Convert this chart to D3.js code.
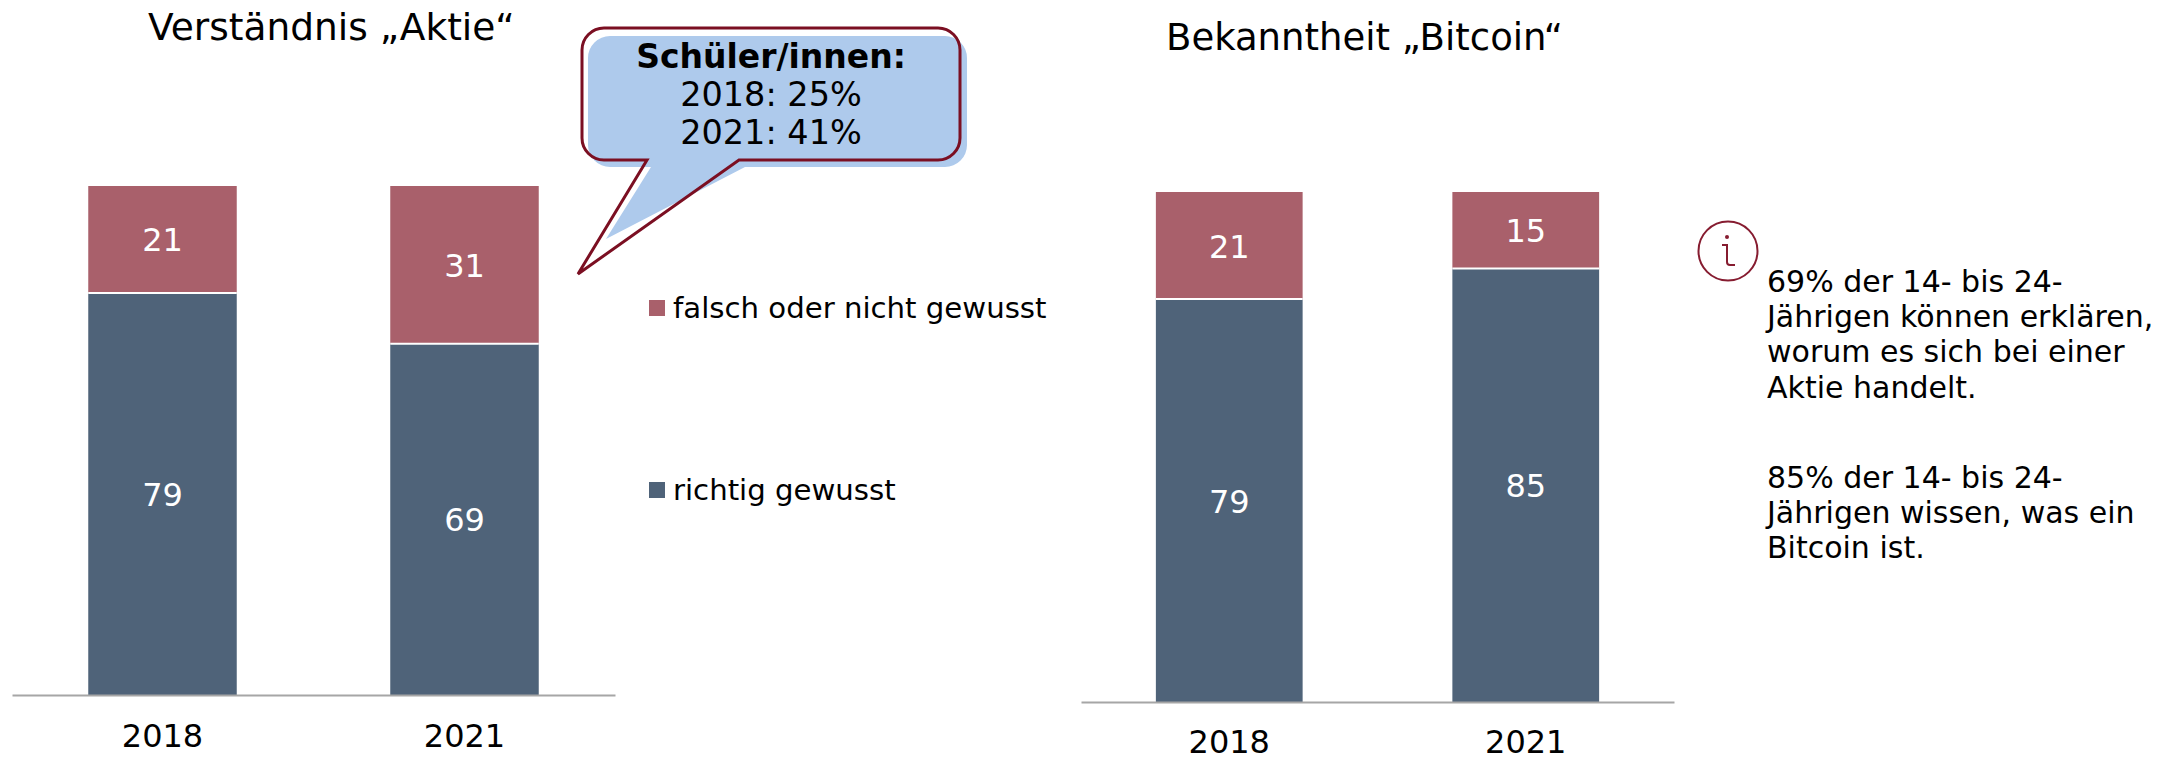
<!DOCTYPE html>
<html lang="de">
<head>
<meta charset="UTF-8" />
<title>Verständnis Aktie / Bekanntheit Bitcoin</title>
<script src="https://d3js.org/d3.v7.min.js"></script>
<style>
  html, body { margin: 0; padding: 0; background: white; }
  svg { display: block; }
  text { font-family: "DejaVu Sans", sans-serif; fill: black; }
</style>
</head>
<body>
<div id="chart"></div>
<script>
// --- data ---
const years = ["2018", "2021"];
const seriesNames = ["richtig gewusst", "falsch oder nicht gewusst"];
const aktieRichtig = [79, 69];
const aktieFalsch = [21, 31];
const bitcoinRichtig = [79, 85];
const bitcoinFalsch = [21, 15];
const calloutLines = ["Schüler/innen:", "2018: 25%", "2021: 41%"];
const infoLines1 = ["69% der 14- bis 24-", "Jährigen können erklären,", "worum es sich bei einer", "Aktie handelt."];
const infoLines2 = ["85% der 14- bis 24-", "Jährigen wissen, was ein", "Bitcoin ist."];

const colors = { "richtig gewusst": "#4f6379", "falsch oder nicht gewusst": "#a9606b" };
const fs = 32;

const svg = d3.select("#chart").append("svg").attr("width", 2167).attr("height", 757);

// --- one stacked bar panel ---
function drawPanel(opts) {
  const x = d3.scaleBand().domain(years).range(opts.xRange).paddingInner(opts.inner).paddingOuter(opts.outer);
  const y = d3.scaleLinear().domain([0, 100]).range([opts.base, opts.top]);
  const g = svg.append("g");

  const rows = years.map((yr, i) => ({ year: yr, "richtig gewusst": opts.low[i], "falsch oder nicht gewusst": opts.high[i] }));
  const stacked = d3.stack().keys(seriesNames)(rows);

  stacked.forEach(layer => {
    g.selectAll(null).data(layer).enter().append("rect")
      .attr("x", d => x(d.data.year))
      .attr("y", d => y(d[1]))
      .attr("width", x.bandwidth())
      .attr("height", d => y(d[0]) - y(d[1]))
      .attr("fill", colors[layer.key]);

    g.selectAll(null).data(layer).enter().append("text")
      .attr("x", d => x(d.data.year) + x.bandwidth() / 2)
      .attr("y", d => (y(d[0]) + y(d[1])) / 2 + 12)
      .attr("text-anchor", "middle")
      .attr("font-size", fs)
      .style("fill", "white")
      .text(d => d[1] - d[0]);
  });

  // white seam between the two segments
  g.selectAll(null).data(rows).enter().append("line")
    .attr("x1", d => x(d.year))
    .attr("x2", d => x(d.year) + x.bandwidth())
    .attr("y1", d => y(d["richtig gewusst"]))
    .attr("y2", d => y(d["richtig gewusst"]))
    .attr("stroke", "white")
    .attr("stroke-width", 2);

  const axis = g.append("g")
    .attr("transform", `translate(0,${opts.base})`)
    .call(d3.axisBottom(x).tickSize(0).tickPadding(opts.pad));
  axis.select(".domain").attr("stroke", "#a6a6a6").attr("stroke-width", 2);
  axis.selectAll("text").attr("font-size", fs).style("font-family", '"DejaVu Sans", sans-serif');

  g.append("text")
    .attr("x", opts.titleX)
    .attr("y", opts.titleY)
    .attr("font-size", opts.titleSize)
    .text(opts.title);
}

drawPanel({
  xRange: [12, 615], inner: 153 / 301, outer: 76 / 301, base: 695, top: 186, pad: 29,
  low: aktieRichtig, high: aktieFalsch,
  title: "Verständnis „Aktie“", titleX: 148, titleY: 40, titleSize: 37.5
});
drawPanel({
  xRange: [1081, 1674], inner: 150 / 297, outer: 75 / 297, base: 702, top: 192, pad: 28,
  low: bitcoinRichtig, high: bitcoinFalsch,
  title: "Bekanntheit „Bitcoin“", titleX: 1166, titleY: 50, titleSize: 37
});

// --- legend ---
const legendY = d3.scalePoint().domain(seriesNames.slice().reverse()).range([308, 490]);
const legend = svg.selectAll(".legend-row").data(seriesNames).enter().append("g")
  .attr("class", "legend-row")
  .attr("transform", d => `translate(649,${legendY(d)})`);
legend.append("rect").attr("x", 0).attr("y", -8).attr("width", 16).attr("height", 16).attr("fill", d => colors[d]);
legend.append("text").attr("x", 24).attr("y", 10).attr("font-size", 29.2).text(d => d);

// --- speech bubble: light shape sits offset under the dark outline ---
function bubble(l, t, r, b, rad, tip, baseA, baseB) {
  const p = d3.path();
  p.moveTo(l + rad, t);
  p.lineTo(r - rad, t);
  p.arcTo(r, t, r, t + rad, rad);
  p.lineTo(r, b - rad);
  p.arcTo(r, b, r - rad, b, rad);
  p.lineTo(baseB, b);
  p.lineTo(tip[0], tip[1]);
  p.lineTo(baseA, b);
  p.lineTo(l + rad, b);
  p.arcTo(l, b, l, b - rad, rad);
  p.lineTo(l, t + rad);
  p.arcTo(l, t, l + rad, t, rad);
  p.closePath();
  return p.toString();
}
svg.append("path")
  .attr("d", bubble(588, 36, 967, 167, 22, [606, 239], 651, 745))
  .attr("fill", "#aecaec");
svg.append("path")
  .attr("d", bubble(582, 28, 960, 160, 22, [578, 274], 647, 739))
  .attr("fill", "none")
  .attr("stroke", "#7b0f22")
  .attr("stroke-width", 3);
svg.selectAll(".callout").data(calloutLines).enter().append("text")
  .attr("class", "callout")
  .attr("x", 771)
  .attr("y", (d, i) => 68 + i * 38.2)
  .attr("text-anchor", "middle")
  .attr("font-size", (d, i) => i === 0 ? 33 : 33.5)
  .attr("font-weight", (d, i) => i === 0 ? "bold" : "normal")
  .text(d => d);

// --- info icon + notes ---
const icon = svg.append("g").attr("transform", "translate(1728,251)");
icon.append("circle").attr("r", 29.5).attr("fill", "none").attr("stroke", "#861c30").attr("stroke-width", 2);
icon.append("circle").attr("cx", -1).attr("cy", -14).attr("r", 2).attr("fill", "#861c30");
icon.append("path")
  .attr("d", "M-6,-6 L-1,-6 L-1,11 Q-1,14 2,14 L7,14")
  .attr("fill", "none").attr("stroke", "#861c30").attr("stroke-width", 2);

function notes(lines, startY) {
  svg.selectAll(null).data(lines).enter().append("text")
    .attr("x", 1767)
    .attr("y", (d, i) => startY + i * 35.2)
    .attr("font-size", 30)
    .text(d => d);
}
notes(infoLines1, 292);
notes(infoLines2, 488);
</script>
</body>
</html>
